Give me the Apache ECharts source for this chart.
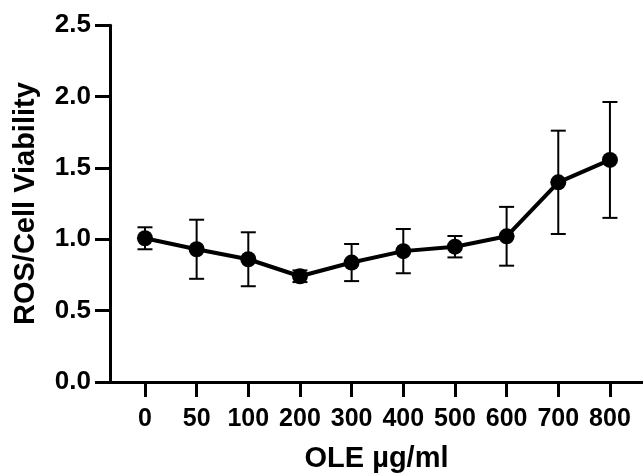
<!DOCTYPE html>
<html>
<head>
<meta charset="utf-8">
<script src="https://cdn.jsdelivr.net/npm/echarts@6/dist/echarts.min.js"></script>
<style>
html,body{margin:0;padding:0;background:#fff;}
#chart{width:643px;height:473px;}
</style>
</head>
<body>
<div id="chart"></div>
<script>
var categories = ['0','50','100','200','300','400','500','600','700','800'];
var means = [1.007, 0.930, 0.860, 0.741, 0.837, 0.917, 0.948, 1.021, 1.399, 1.556];
var sd = [0.077, 0.207, 0.189, 0.041, 0.130, 0.155, 0.075, 0.206, 0.362, 0.406];
var yTicks = [0, 0.5, 1.0, 1.5, 2.0, 2.5];

var idx = categories.map(function(c,i){return i;});
var lineData = means.map(function(m,i){return [i,m];});
var errData = means.map(function(m,i){return [i, m - sd[i], m + sd[i]];});

var FONT = '"Liberation Sans", Arial, sans-serif';
var chart = echarts.init(document.getElementById('chart'), null, {renderer:'canvas'});
chart.setOption({
  backgroundColor:'#fff',
  animation:false,
  grid:{left:110, right:0, top:25.2, bottom:91, containLabel:false, outerBoundsMode:'none'},
  xAxis:{
    type:'value', min:-0.677, max:9.64,
    name:'OLE µg/ml', nameLocation:'middle', nameGap:62,
    nameTextStyle:{fontFamily:FONT, fontWeight:'bold', fontSize:29, color:'#000'},
    axisLine:{show:true, onZero:false, lineStyle:{color:'#000', width:3}},
    axisTick:{show:true, length:15, lineStyle:{color:'#000', width:3}, customValues:idx},
    axisLabel:{show:true, customValues:idx, margin:25, fontFamily:FONT, fontWeight:'bold', fontSize:25, color:'#000',
      formatter:function(v){return categories[Math.round(v)];}},
    splitLine:{show:false}
  },
  yAxis:{
    type:'value', min:0, max:2.5, interval:0.5,
    name:'ROS/Cell Viability', nameLocation:'middle', nameGap:70, nameRotate:90,
    nameTextStyle:{fontFamily:FONT, fontWeight:'bold', fontSize:29, color:'#000'},
    axisLine:{show:true, onZero:false, lineStyle:{color:'#000', width:3}},
    axisTick:{show:true, length:15, lineStyle:{color:'#000', width:3}},
    axisLabel:{margin:19, padding:[4,0,0,0], fontFamily:FONT, fontWeight:'bold', fontSize:26, color:'#000',
      formatter:function(v){return v.toFixed(1);}},
    splitLine:{show:false}
  },
  series:[
    {
      type:'custom',
      data:errData,
      z:3,
      renderItem:function(params, api){
        var x = api.value(0);
        var lo = api.coord([x, api.value(1)]);
        var hi = api.coord([x, api.value(2)]);
        var hw = 7.5;
        var st = {stroke:'#000', lineWidth:2};
        return {type:'group', children:[
          {type:'line', shape:{x1:lo[0], y1:lo[1], x2:hi[0], y2:hi[1]}, style:st},
          {type:'line', shape:{x1:lo[0]-hw, y1:lo[1], x2:lo[0]+hw, y2:lo[1]}, style:st},
          {type:'line', shape:{x1:hi[0]-hw, y1:hi[1], x2:hi[0]+hw, y2:hi[1]}, style:st}
        ]};
      }
    },
    {
      type:'line',
      data:lineData,
      z:4,
      symbol:'circle', symbolSize:16,
      lineStyle:{color:'#000', width:4},
      itemStyle:{color:'#000'}
    }
  ]
});
</script>
</body>
</html>
